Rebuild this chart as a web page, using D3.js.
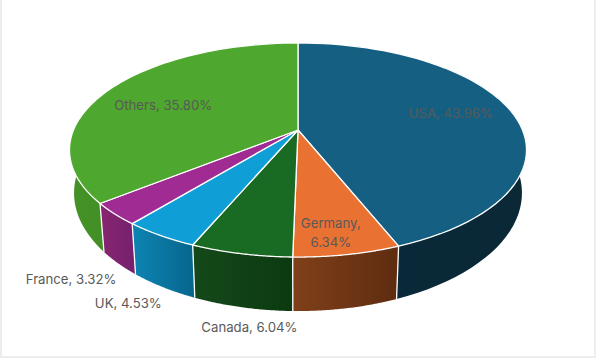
<!DOCTYPE html>
<html><head><meta charset="utf-8">
<script src="https://cdn.jsdelivr.net/npm/d3@7/dist/d3.min.js"></script>
<style>html,body{margin:0;padding:0;background:#fff;overflow:hidden}svg{display:block}</style>
</head><body><svg id="c" width="596" height="358"></svg>
<script>
const categories = ["USA","Germany","Canada","UK","France","Others"];
const shares = [43.96,6.34,6.04,4.53,3.32,35.80];
const topColors = ["#156082","#E97132","#196B24","#0F9ED5","#A02B93","#4EA72E"];
const sideLeft = ["#0a2a3a","#7f4019","#14491a","#0e84b3","#87266f","#449227"];
const sideRight = ["#0a2836","#5f2c10","#0c3a10","#06668c","#75206e","#3a7d22"];
// label placement: radial fraction of the slice mid-angle plus pixel nudge
const labelR = [0.72,0.82,0.86,1.0,1.24,0.72];
const labelDx = [-2,-6,-1,-32,9,3];
const labelDy = [-3,5,94,67.5,41,6];

const W=596,H=358,cx=298,cy=130,R=224.5,Rv=103.3,k=0.187;
const svg=d3.select("#c");
svg.append("rect").attr("width",W).attr("height",H).attr("fill","#ededed");
svg.append("rect").attr("x",2).attr("y",0).attr("width",W-4).attr("height",H-2).attr("fill","#fff");

const pie=d3.pie().value(d=>d).sort(null);
const arcs=pie(shares);
function proj(a,r=1){const w=1+k*Math.cos(a)*r;return [cx+R*r*Math.sin(a)/w,cy-Rv*r*Math.cos(a)/w];}
function projB(a){const [x,y]=proj(a);return [cx+0.98*(x-cx),170.9+1.103*(y-cy)];}
function samples(a0,a1){return d3.range(0,61).map(i=>a0+(a1-a0)*i/60);}
const line=d3.line();

const defs=svg.append("defs");
arcs.forEach((d,i)=>{
  const g=defs.append("linearGradient").attr("id","g"+i);
  g.append("stop").attr("offset","0%").attr("stop-color",sideLeft[i]);
  g.append("stop").attr("offset","100%").attr("stop-color",sideRight[i]);
});
// side walls
svg.append("g").selectAll("path").data(arcs).join("path")
  .attr("d",d=>{const s=samples(d.startAngle,d.endAngle);
     return line(s.map(a=>proj(a)).concat(s.slice().reverse().map(a=>projB(a))))+"Z";})
  .attr("fill",(d,i)=>`url(#g${i})`);
// white edges between wall segments
svg.append("g").selectAll("path").data(arcs.slice(1)).join("path")
  .attr("d",d=>line([proj(d.startAngle),projB(d.startAngle)]))
  .attr("stroke","#fff").attr("stroke-width",1.3).attr("fill","none");
// top
svg.append("g").selectAll("path").data(arcs).join("path")
  .attr("d",d=>line([[cx,cy]].concat(samples(d.startAngle,d.endAngle).map(a=>proj(a))))+"Z")
  .attr("fill",(d,i)=>topColors[i])
  .attr("stroke","#fff").attr("stroke-width",1.3).attr("stroke-linejoin","round");
// labels
const t=svg.append("g").attr("font-family","Inter, 'Noto Sans', sans-serif").attr("font-size",13.2).attr("fill","#595959").attr("text-anchor","middle");
arcs.forEach((d,i)=>{
  const mid=(d.startAngle+d.endAngle)/2;
  const [x,y]=proj(mid,labelR[i]);
  const txt=categories[i]+", "+shares[i].toFixed(2)+"%";
  const lx=x+labelDx[i],ly=y+labelDy[i];
  if(categories[i]==="Germany"){
    const n=txt.split(" ");
    t.append("text").attr("x",lx).attr("y",ly-9.5).attr("dy","0.35em").text(n[0]);
    t.append("text").attr("x",lx).attr("y",ly+9.5).attr("dy","0.35em").text(n[1]);
  } else t.append("text").attr("x",lx).attr("y",ly).attr("dy","0.35em").text(txt);
});
</script></body></html>
